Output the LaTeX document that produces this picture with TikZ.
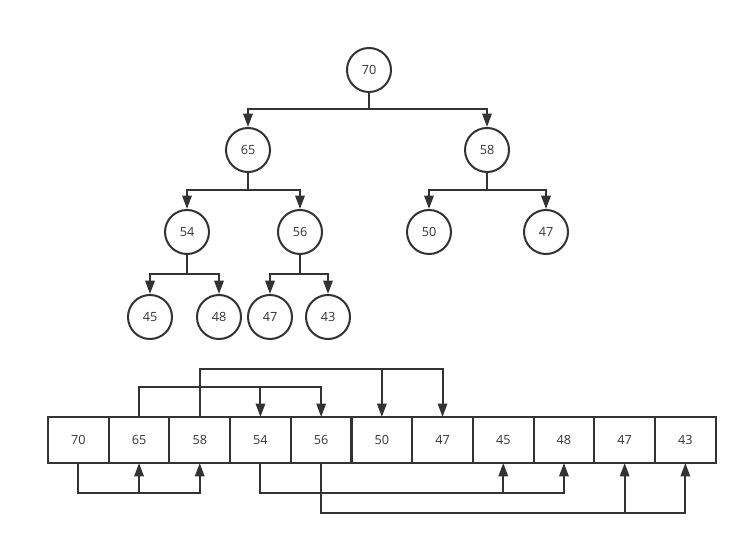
\documentclass[tikz,border=0pt]{standalone}
\usepackage{fontspec}
\setmainfont{Open Sans}
\usepackage{tikz}
\usetikzlibrary{arrows.meta}

\begin{document}
\begin{tikzpicture}[x=0.75pt, y=-0.75pt]

% Colori
\definecolor{lineDark}{HTML}{333333}

\tikzset{
  knot/.style={circle, draw=lineDark, line width=1.5pt, minimum size=33pt,
    inner sep=0pt, text=lineDark, font=\fontsize{9.5}{11}\selectfont},
  cell/.style={rectangle, draw=lineDark, line width=1.5pt, minimum width=45.5pt,
    minimum height=34.5pt, inner sep=0pt, outer sep=0pt, text=lineDark,
    font=\fontsize{9.5}{11}\selectfont},
  edge/.style={draw=lineDark, line width=1.5pt,
    -{Triangle[length=10pt, width=7pt]}}
}

\useasboundingbox (0,0) rectangle (747,545);

% Albero
\node[knot] (n70) at (369,70) {70};
\node[knot] (n65) at (248,150) {65};
\node[knot] (n58) at (487,150) {58};
\node[knot] (n54) at (187,232) {54};
\node[knot] (n56) at (300,232) {56};
\node[knot] (n50) at (429,232) {50};
\node[knot] (n47) at (546,232) {47};
\node[knot] (n45) at (150,317) {45};
\node[knot] (n48) at (219,317) {48};
\node[knot] (n47b) at (270,317) {47};
\node[knot] (n43) at (328,317) {43};

% Rami
\draw[edge] (n70) -- (n70 |- 0,109) -| (n65);
\draw[edge] (n70 |- 0,109) -| (n58);
\draw[edge] (n65) -- (n65 |- 0,190) -| (n54);
\draw[edge] (n65 |- 0,190) -| (n56);
\draw[edge] (n58) -- (n58 |- 0,190) -| (n50);
\draw[edge] (n58 |- 0,190) -| (n47);
\draw[edge] (n54) -- (n54 |- 0,274) -| (n45);
\draw[edge] (n54 |- 0,274) -| (n48);
\draw[edge] (n56) -- (n56 |- 0,274) -| (n47b);
\draw[edge] (n56 |- 0,274) -| (n43);

% Array
\foreach \v [count=\i] in {70,65,58,54,56,50,47,45,48,47,43}
  \node[cell] (a\i) at ({48+60.7*(\i-1)+30.35},440) {\v};

% Collegamenti sopra
\draw[edge] (a2.north) -- (a2.north |- 0,387) -| (a5.north);
\draw[edge] (a4.north |- 0,387) -- (a4.north);
\draw[edge] (a3.north) -- (a3.north |- 0,369) -| (a7.north);
\draw[edge] (a6.north |- 0,369) -- (a6.north);

% Collegamenti sotto
\draw[edge] (a1.south) -- (a1.south |- 0,493) -| (a3.south);
\draw[edge] (a2.south |- 0,493) -- (a2.south);
\draw[edge] (a4.south) -- (a4.south |- 0,493) -| (a9.south);
\draw[edge] (a8.south |- 0,493) -- (a8.south);
\draw[edge] (a5.south) -- (a5.south |- 0,513) -| (a11.south);
\draw[edge] (a10.south |- 0,513) -- (a10.south);

\end{tikzpicture}
\end{document}
